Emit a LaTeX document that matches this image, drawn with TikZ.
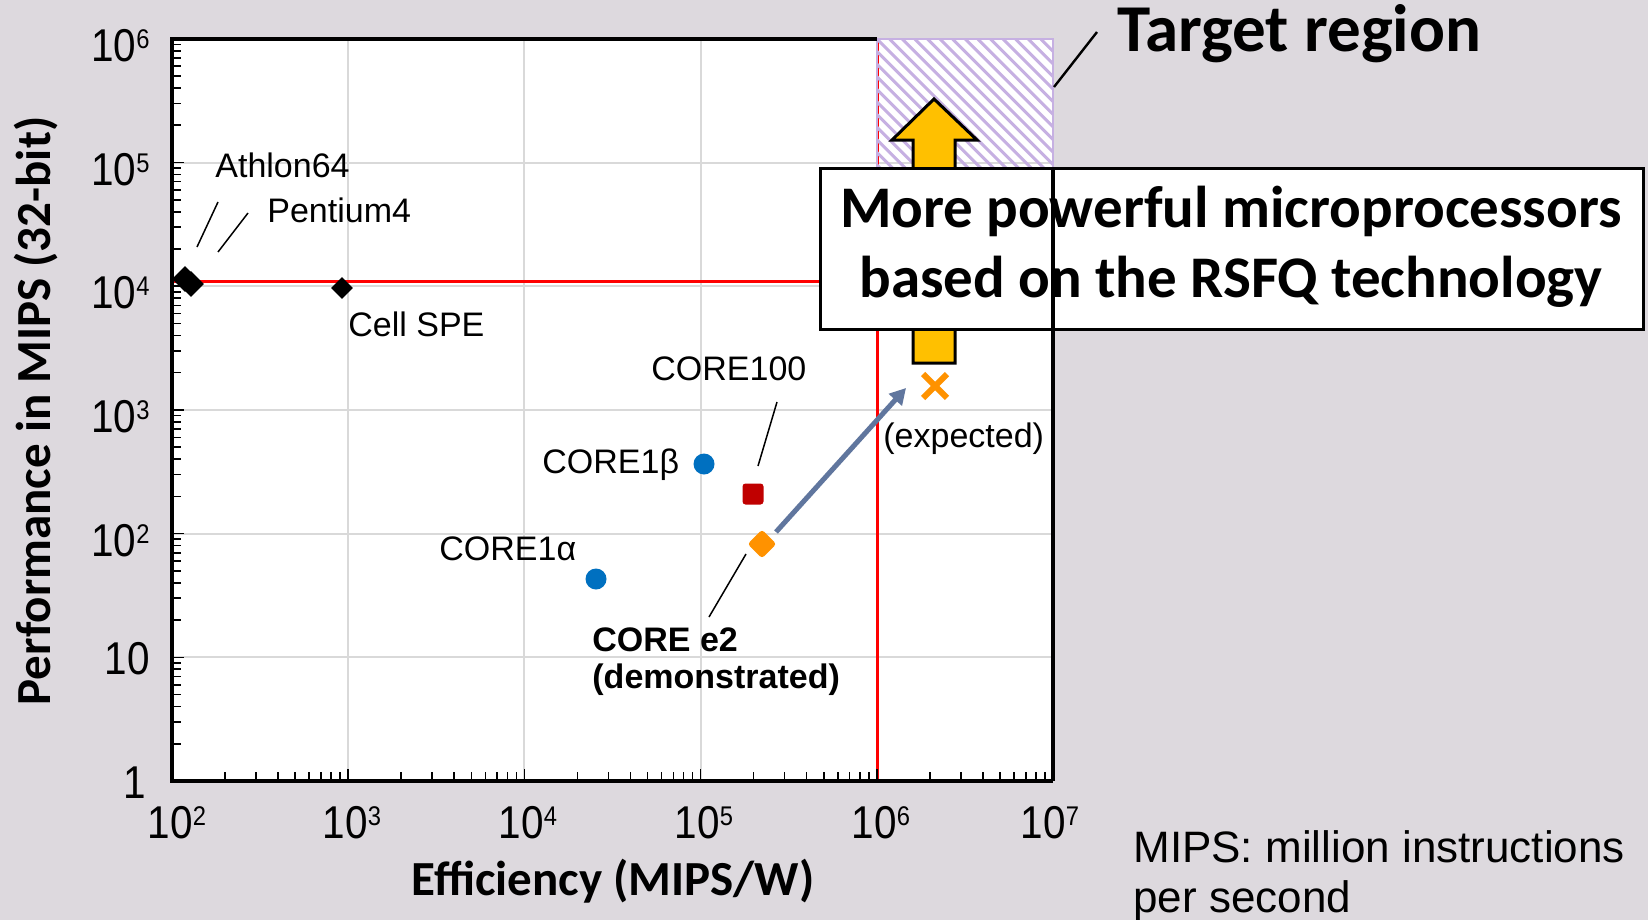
\documentclass[tikz,border=0pt]{standalone}
\usepackage{fontspec}
\setmainfont{Liberation Sans}
\newfontfamily\arialn[FakeStretch=0.88]{Liberation Sans}
\newfontfamily\calb{Carlito}
\usetikzlibrary{arrows.meta,shapes.geometric}
\definecolor{bg}{RGB}{221,217,222}
\definecolor{gridc}{RGB}{217,217,217}
\definecolor{hatchc}{RGB}{198,176,226}
\definecolor{goldc}{RGB}{255,192,0}
\definecolor{orangec}{RGB}{255,146,0}
\definecolor{darkredc}{RGB}{192,0,0}
\definecolor{bluedot}{RGB}{0,112,192}
\definecolor{slatec}{RGB}{96,118,158}
\definecolor{redline}{RGB}{255,0,0}
\newcommand{\myfs}[1]{\fontsize{#1}{#1}\selectfont}
\newcommand{\tenp}[1]{10\raisebox{6.5pt}{\myfs{13.5pt}#1}}
\tikzset{
  lbl/.style={font=\myfs{17pt}, inner sep=0pt, anchor=base west},
  ticklbl/.style={font=\arialn\myfs{23pt}, inner sep=0pt},
  leader/.style={line width=0.75pt},
  frameline/.style={line width=1.75pt},
  gridline/.style={gridc, line width=1pt},
  redl/.style={redline, line width=1.5pt},
  mk/.style={inner sep=0pt, draw=none},
}
\begin{document}
\begin{tikzpicture}[x=0.5pt,y=-0.5pt]
\useasboundingbox (0,0) rectangle (1648,920);
\fill[bg] (0,0) rectangle (1648,920);
\fill[white] (172,39) rectangle (1053,781);
% grid
\begin{scope}[shift={(172,781)},x=88.1pt,y=61.85pt]
  \foreach \j in {1,2,3} \draw[gridline] (\j,0) -- (\j,6);
  \foreach \k in {1,...,5} \draw[gridline] (0,\k) -- (5,\k);
\end{scope}
% red limit lines
\draw[redl] (172,281) -- (1053,281);
\draw[redl] (877,39) -- (877,781);
% hatched target region
\begin{scope}
  \clip (877,39) rectangle (1053,281);
  \foreach \i in {-21,...,15}
    \draw[hatchc, line width=1.5pt] (877+\i*12.6,39) -- ++(260,260);
\end{scope}
\draw[hatchc, line width=0.8pt] (877,39) rectangle (1053,281);
% frame
\draw[frameline, line join=miter] (877,39) -- (172,39) -- (172,781) -- (1053,781);
% ticks
\begin{scope}[shift={(172,781)},x=88.1pt,y=61.85pt, line width=0.8pt]
  \foreach \k in {0,...,5}{
    \foreach \m in {2,...,9} \draw (0,{\k+log10(\m)}) -- ++(4.5pt,0pt);
  }
  \foreach \k in {1,...,5} \draw (0,\k) -- ++(6pt,0pt);
  \foreach \j in {0,...,4}{
    \foreach \m in {2,...,9} \draw ({\j+log10(\m)},0) -- ++(0pt,4.5pt);
  }
  \foreach \j in {1,...,4} \draw (\j,0) -- ++(0pt,6pt);
\end{scope}
% y tick labels
\node[ticklbl, anchor=base east] (y6) at (150,62) {\tenp{6}};
\node[ticklbl, anchor=base east] (y5) at (150,185) {\tenp{5}};
\node[ticklbl, anchor=base east] (y4) at (150,308) {\tenp{4}};
\node[ticklbl, anchor=base east] (y3) at (150,432) {\tenp{3}};
\node[ticklbl, anchor=base east] (y2) at (150,556) {\tenp{2}};
\node[ticklbl, anchor=base east] (y1) at (150,674) {10};
\node[ticklbl, anchor=base east] (y0) at (146,798) {1};
% x tick labels
\node[ticklbl, anchor=base] (x2) at (177,838) {\tenp{2}};
\node[ticklbl, anchor=base] (x3) at (352,838) {\tenp{3}};
\node[ticklbl, anchor=base] (x4) at (528,838) {\tenp{4}};
\node[ticklbl, anchor=base] (x5) at (704,838) {\tenp{5}};
\node[ticklbl, anchor=base] (x6) at (881,838) {\tenp{6}};
\node[ticklbl, anchor=base] (x7) at (1050,838) {\tenp{7}};
% axis titles
\node[font=\calb\bfseries\myfs{24.5pt}, anchor=base, inner sep=0pt] (xlab) at (613,895) {Efficiency (MIPS/W)};
\node[font=\calb\bfseries\myfs{24.5pt}, rotate=90, inner sep=0pt] (ylab) at (36,411) {Performance in MIPS (32-bit)};
% yellow block arrow
\draw[fill=goldc, line width=1.5pt, line join=miter] (934,99) -- (977,140) -- (955,140) -- (955,363) -- (913,363) -- (913,140) -- (892,140) -- cycle;
% text box
\node[draw, fill=white, line width=1.5pt, inner sep=0pt, minimum width=411.5pt, minimum height=80.5pt] (box) at (1231.5,248.5) {};
\node[font=\calb\bfseries\myfs{29.5pt}, anchor=base, inner sep=0pt] (boxl1) at (1231,227) {More powerful microprocessors};
\node[font=\calb\bfseries\myfs{29.5pt}, anchor=base, inner sep=0pt] (boxl2) at (1231,297) {based on the RSFQ technology};
% right frame line over the box
\draw[frameline] (1053,168) -- (1053,781);
% target region label
\node[font=\calb\bfseries\myfs{33.5pt}, anchor=base west, inner sep=0pt] (target) at (1117,52) {Target region};
\coordinate (tA) at (1054,87);
\coordinate (tB) at (1097,32);
\draw[line width=1.2pt] (tA) -- (tB);
% markers
\node[mk, diamond, fill=black, minimum size=13pt] (athlon) at (185,279) {};
\node[mk, diamond, fill=black, minimum size=13pt] (pentium) at (191,284) {};
\node[mk, diamond, fill=black, minimum size=11pt] (cell) at (342,288) {};
\node[mk, circle, fill=bluedot, minimum size=10.5pt] (c1b) at (704,464) {};
\node[mk, circle, fill=bluedot, minimum size=10.5pt] (c1a) at (596,579) {};
\node[mk, rectangle, fill=darkredc, minimum size=10.5pt, rounded corners=1.5pt] (c100) at (753,494) {};
\node[mk, diamond, fill=orangec, minimum size=14.5pt, rounded corners=1.5pt] (ce2) at (762,544) {};
\node[mk, minimum size=11.5pt] (exp) at (935,386) {};
\draw[orangec, line width=3pt] (exp.north west) -- (exp.south east);
\draw[orangec, line width=3pt] (exp.north east) -- (exp.south west);
% blue trend arrow
\coordinate (bA) at (776,532);
\coordinate (bB) at (906,388);
\draw[slatec, line width=2.5pt, -{Triangle[length=8pt,width=8.5pt]}] (bA) -- (bB);
% labels
\node[lbl] (lathlon) at (215,177) {Athlon64};
\node[lbl] (lpent) at (267,222) {Pentium4};
\node[lbl] (lcell) at (348,336) {Cell SPE};
\node[lbl] (lc100) at (651,380) {CORE100};
\node[lbl] (lc1b) at (542,473) {CORE1β};
\node[lbl] (lc1a) at (439,560) {CORE1α};
\node[lbl] (lexp) at (883,447) {(expected)};
\node[lbl, font=\bfseries\myfs{17pt}] (lce2) at (592,651) {CORE e2};
\node[lbl, font=\bfseries\myfs{17pt}] (lce2b) at (592,688) {(demonstrated)};
% leader lines
\coordinate (a1) at (218,202); \coordinate (a2) at (197,247);
\coordinate (p1) at (248,213); \coordinate (p2) at (218,252);
\coordinate (k1) at (777,402); \coordinate (k2) at (758,466);
\coordinate (e1) at (746,554); \coordinate (e2) at (709,617);
\draw[leader] (a1) -- (a2);
\draw[leader] (p1) -- (p2);
\draw[leader] (k1) -- (k2);
\draw[leader] (e1) -- (e2);
% footnote
\node[font=\myfs{22pt}, anchor=base west, inner sep=0pt] (note1) at (1133,862) {MIPS: million instructions};
\node[font=\myfs{22pt}, anchor=base west, inner sep=0pt] (note2) at (1133,912) {per second};
\end{tikzpicture}
\end{document}
